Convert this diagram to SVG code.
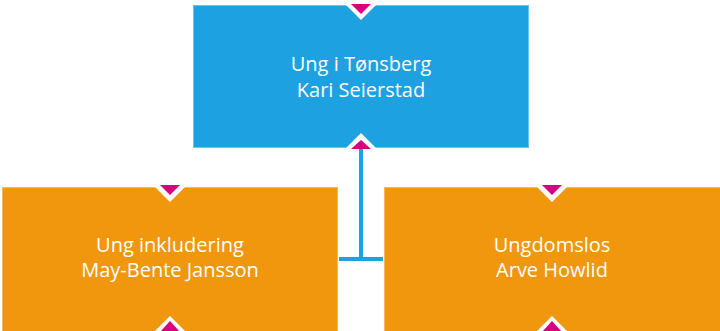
<svg xmlns="http://www.w3.org/2000/svg" width="720" height="331" viewBox="0 0 720 331">
<style>
.blue{fill:#1ea1e0;stroke:#6cc3ec;stroke-width:1}
.orange{fill:#f0970d;stroke:#f5b760;stroke-width:1}
.w{fill:#ffffff}
.p{fill:#d9007e}
.t{font-family:"Open Sans","Noto Sans","Liberation Sans",sans-serif;font-size:20px;fill:#ffffff;text-anchor:middle}
.c{stroke:#1ea1e0;stroke-width:4;fill:none}
</style>
<rect width="720" height="331" fill="#ffffff"/>
<g id="connectors">
<line class="c" x1="361" y1="146" x2="361" y2="259"/>
<line class="c" x1="339" y1="259" x2="383" y2="259"/>
</g>
<g id="node-top">
<rect class="blue" x="193.5" y="5.5" width="335" height="142"/>
<polygon class="w" points="346,5 376,5 361,20"/>
<polygon class="p" points="351,4 371,4 361,14"/>
<polygon class="w" points="346,148 376,148 361,133"/>
<polygon class="p" points="351,149 371,149 361,140"/>
<text class="t" x="361" y="71">Ung i Tønsberg</text>
<text class="t" x="361" y="97">Kari Seierstad</text>
</g>
<g id="node-left">
<rect class="orange" x="2.5" y="187.5" width="335" height="150"/>
<polygon class="w" points="155,187 185,187 170,202"/>
<polygon class="p" points="160,185 180,185 170,195"/>
<polygon class="w" points="155,331 185,331 170,316"/>
<polygon class="p" points="160,332 180,332 170,321"/>
<text class="t" x="170" y="252">Ung inkludering</text>
<text class="t" x="170" y="277">May-Bente Jansson</text>
</g>
<g id="node-right">
<rect class="orange" x="384.5" y="187.5" width="340" height="150"/>
<polygon class="w" points="537,187 567,187 552,202"/>
<polygon class="p" points="542,185 562,185 552,195"/>
<polygon class="w" points="537,331 567,331 552,316"/>
<polygon class="p" points="542,332 562,332 552,321"/>
<text class="t" x="552" y="252">Ungdomslos</text>
<text class="t" x="552" y="277">Arve Howlid</text>
</g>
</svg>
